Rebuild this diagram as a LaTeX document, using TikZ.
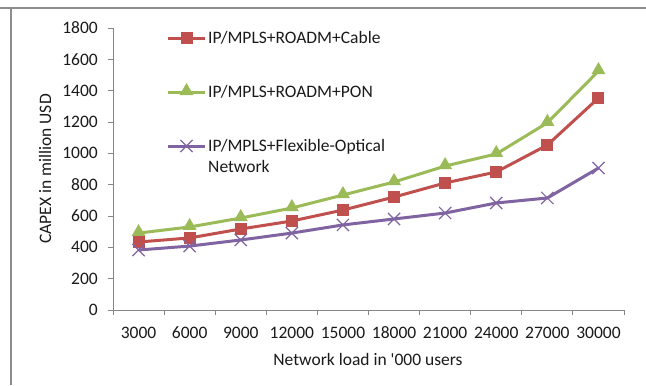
\documentclass[tikz,border=0pt]{standalone}
\usepackage{fontspec}
\setmainfont{Carlito}
\usetikzlibrary{shapes.geometric,shapes.misc}
\definecolor{cred}{HTML}{C0504D}
\definecolor{cgreen}{HTML}{9BBB59}
\definecolor{cpurple}{HTML}{8064A2}
\definecolor{caxis}{HTML}{868686}
\definecolor{cframe}{HTML}{8C8C8C}
\definecolor{ctext}{HTML}{1A1A1A}
\tikzset{
  sqmark/.style={rectangle, fill=cred, minimum size=12bp, inner sep=0pt},
  trimark/.style={regular polygon, regular polygon sides=3, fill=cgreen, minimum size=16bp, inner sep=0pt},
  xmark/.style={cross out, draw=cpurple, line width=1.2bp, minimum size=11bp, inner sep=0pt},
  serline/.style={line width=3bp, line join=round},
  axisline/.style={draw=caxis, line width=0.9bp},
  lbl/.style={font=\fontsize{17.5bp}{21bp}\selectfont, text=ctext, inner sep=0pt},
}
\begin{document}
\begin{tikzpicture}[x=1bp,y=1bp]
\useasboundingbox (0,0) rectangle (646,385);
% outer frame (top and left edges)
\draw[cframe, line width=1.6bp] (0,377) -- (646,377);
\draw[cframe, line width=1.6bp] (11,377) -- (11,0);
% axis titles
\node[lbl] (xtitle) at (368,26) {Network load in \textquotesingle 000 users};
\node[lbl, rotate=90] (ytitle) at (45,216) {CAPEX in million USD};
% legend
\coordinate (lr1) at (168,347); \coordinate (lr2) at (205,347);
\draw[serline, cred] (lr1) -- (lr2);
\node[sqmark] (lrm) at (186.5,347) {};
\node[lbl, anchor=west] (lrt) at (208,347) {IP/MPLS+ROADM+Cable};
\coordinate (lg1) at (168,293); \coordinate (lg2) at (205,293);
\draw[serline, cgreen] (lg1) -- (lg2);
\node[trimark] (lgm) at (186.5,294) {};
\node[lbl, anchor=west] (lgt) at (208,293) {IP/MPLS+ROADM+PON};
\coordinate (lp1) at (168,239); \coordinate (lp2) at (205,239);
\draw[serline, cpurple] (lp1) -- (lp2);
\node[xmark] (lpm) at (186.5,239) {};
\node[lbl, anchor=west, align=left] (lpt) at (208,229) {IP/MPLS+Flexible-Optical\\Network};
% plot area
\begin{scope}[shift={(113,75)}, x=51.1bp, y=0.15667bp]
  % axes
  \coordinate (o) at (0,0);
  \coordinate (ytop) at (0,1800);
  \coordinate (xend) at (10,0);
  \draw[axisline] ([yshift=-5bp]o) -- (ytop);
  \draw[axisline] (o) -- (xend);
  \foreach \v in {0,200,...,1800} {
    \draw[axisline] ([xshift=-5bp]0,\v) -- (0,\v);
    \node[lbl, anchor=east] (yl\v) at ([xshift=-15bp]0,\v) {\v};
  }
  \foreach \i in {1,...,10} {
    \draw[axisline] (\i,0) -- ([yshift=-5bp]\i,0);
  }
  \foreach \n [count=\i] in {3000,6000,9000,12000,15000,18000,21000,24000,27000,30000} {
    \node[lbl] (xl\i) at ([yshift=-23bp]\i-0.5,0) {\n};
  }
  % data coordinates
  \foreach \v [count=\i] in {491,530,587,651,734,817,919,996,1195,1525}
    \coordinate (g\i) at (\i-0.5,\v);
  \foreach \v [count=\i] in {434,460,517,568,638,721,811,881,1053,1353}
    \coordinate (r\i) at (\i-0.5,\v);
  \foreach \v [count=\i] in {383,408,447,491,543,581,619,683,715,906}
    \coordinate (p\i) at (\i-0.5,\v);
  % series PON
  \draw[serline, cgreen] (g1) \foreach \i in {2,...,10} { -- (g\i) };
  \foreach \i in {1,...,10} \node[trimark] (gm\i) at ([yshift=1bp]g\i) {};
  % series Cable
  \draw[serline, cred] (r1) \foreach \i in {2,...,10} { -- (r\i) };
  \foreach \i in {1,...,10} \node[sqmark] (rm\i) at (r\i) {};
  % series Flexible
  \draw[serline, cpurple] (p1) \foreach \i in {2,...,10} { -- (p\i) };
  \foreach \i in {1,...,10} \node[xmark] (pm\i) at (p\i) {};
\end{scope}
\end{tikzpicture}
\end{document}
